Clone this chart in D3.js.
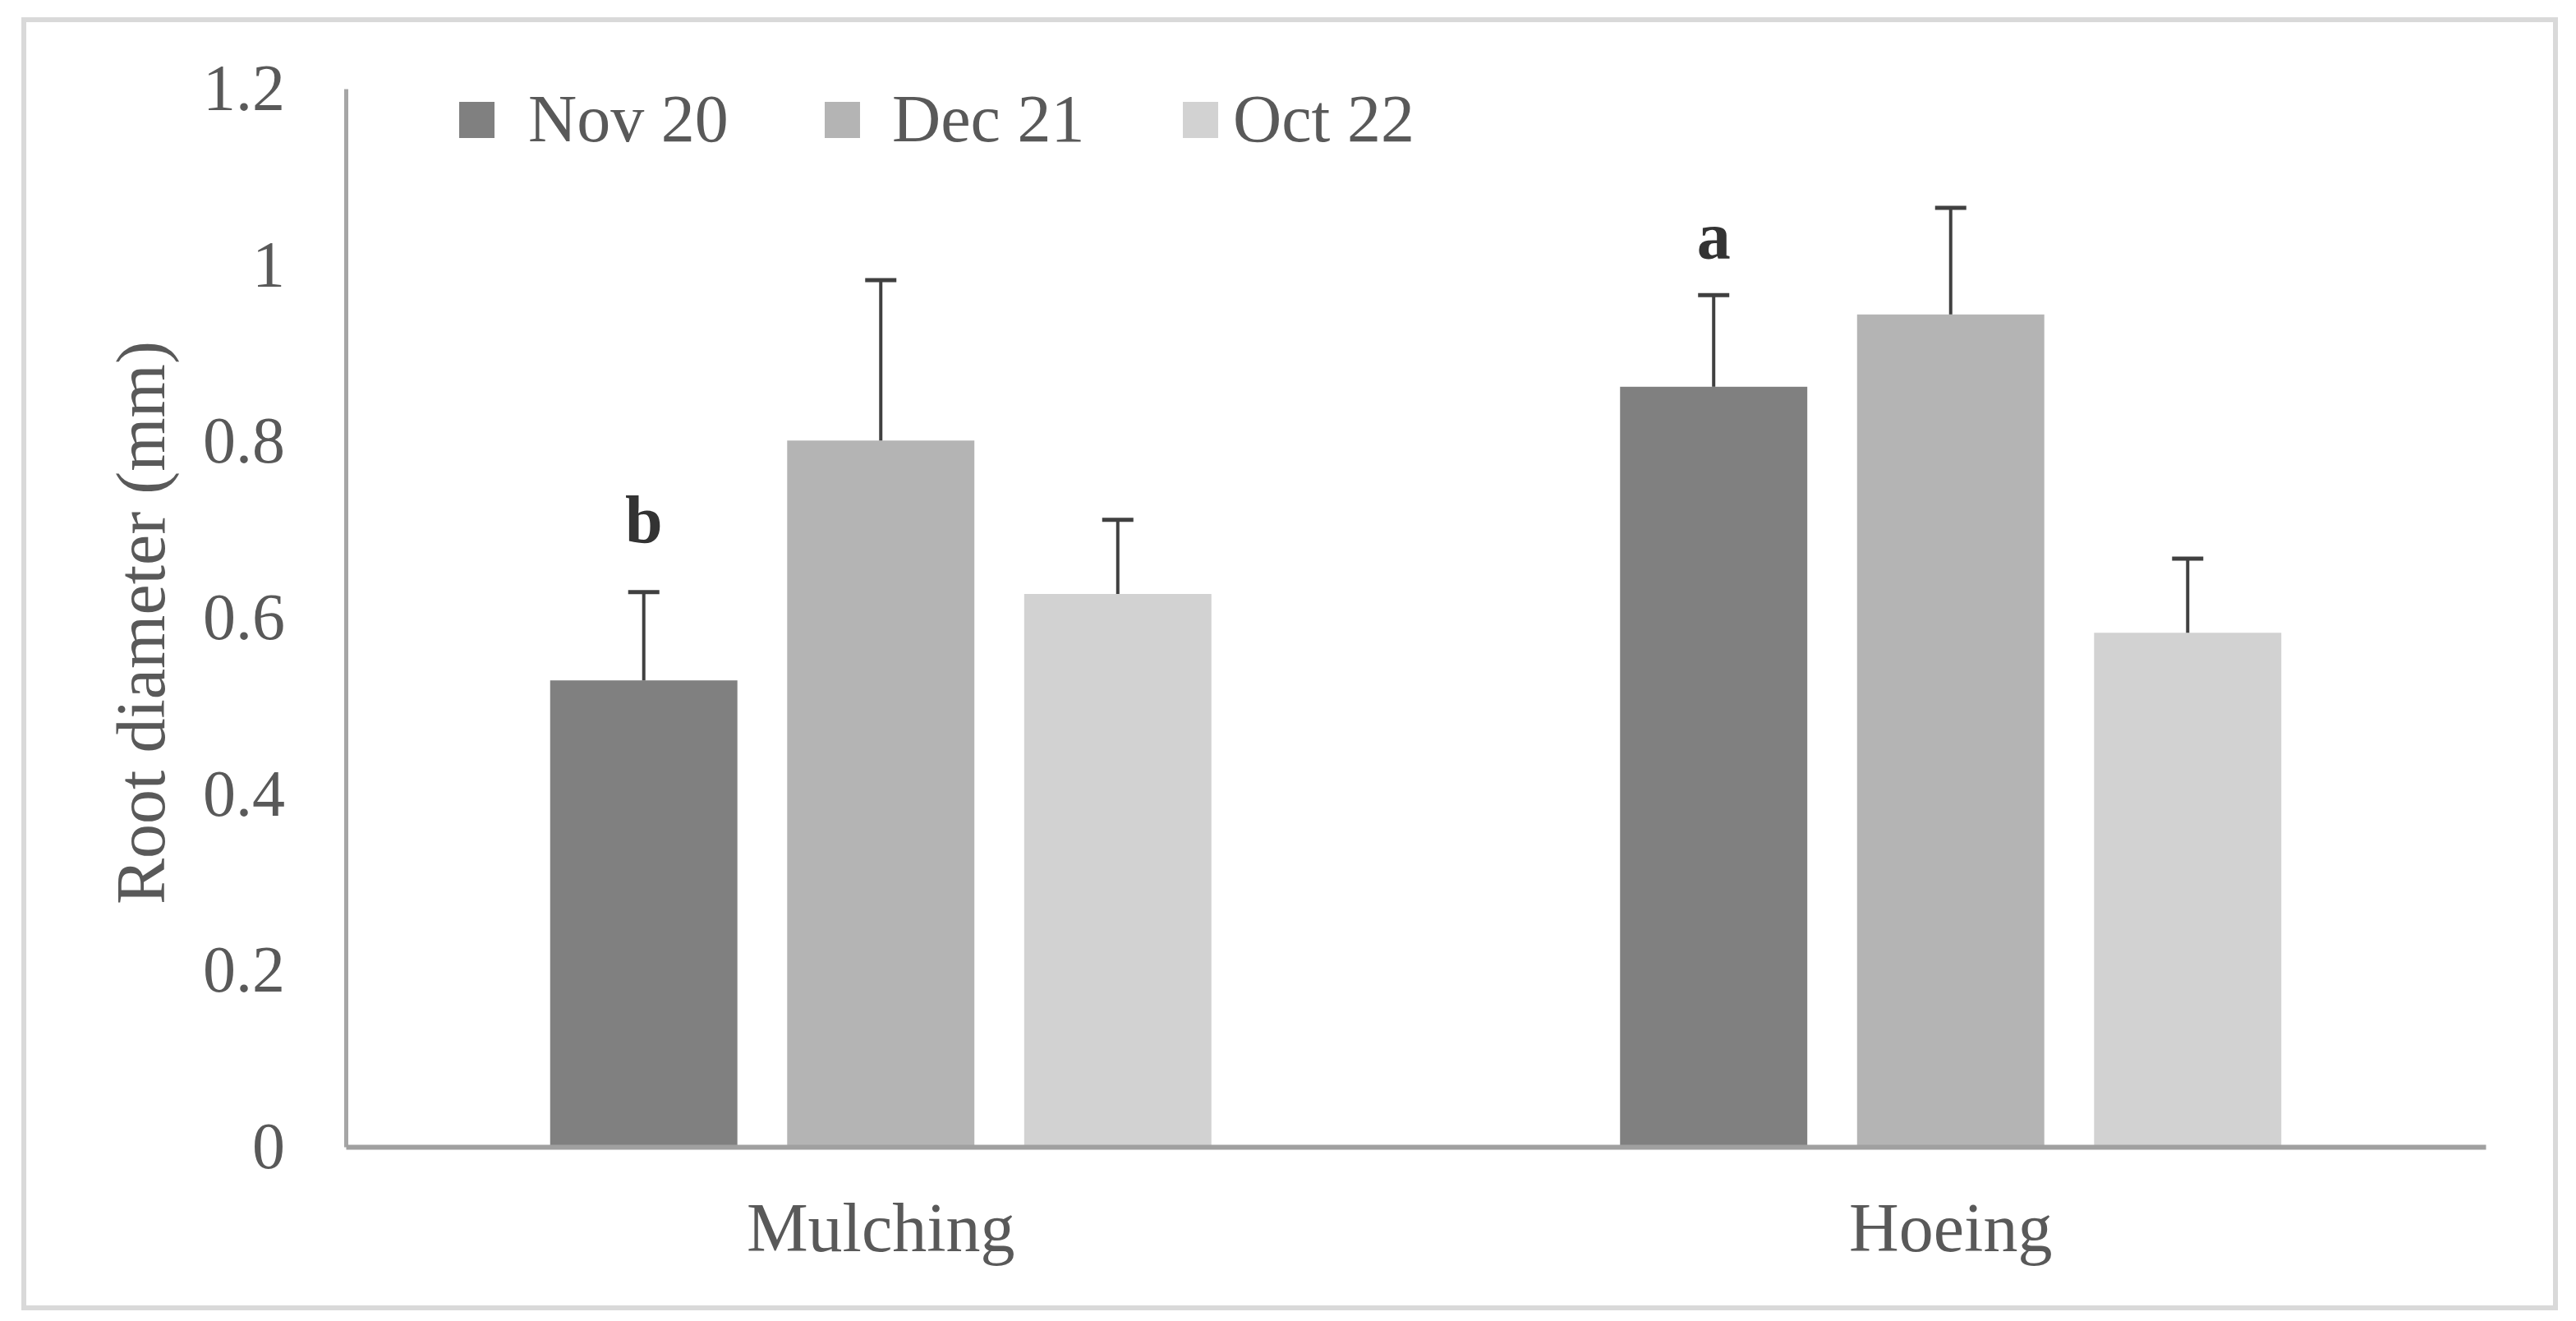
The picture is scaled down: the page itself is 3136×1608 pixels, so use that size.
<!DOCTYPE html>
<html>
<head>
<meta charset="utf-8">
<script src="https://cdn.jsdelivr.net/npm/d3@7"></script>
<style>
  html, body { margin: 0; padding: 0; background: #ffffff; }
  svg { display: block; }
</style>
</head>
<body>
<script>
// ---------------- DATA ----------------
const categories = ["Mulching", "Hoeing"];
const seriesNames = ["Nov 20", "Dec 21", "Oct 22"];
const nov20 = [0.529, 0.862];
const dec21 = [0.801, 0.944];
const oct22 = [0.627, 0.583];
const nov20Err = [0.100, 0.104];
const dec21Err = [0.182, 0.121];
const oct22Err = [0.084, 0.084];
const yTicks = [0, 0.2, 0.4, 0.6, 0.8, 1, 1.2];
const yTitle = "Root diameter (mm)";
// significance letters on the Nov 20 bars
const letters = ["b", "a"];
const letterAt = [0.686, 1.007];

// ---------------- LAYOUT / STYLE ----------------
const W = 3136, H = 1608;
const plot = { left: 421, right: 3026, top: 108, bottom: 1396 };
const colors = ["#808080", "#b4b4b4", "#d2d2d2"];
const font = "'Liberation Serif', 'Times New Roman', serif";
const textColor = "#595959";
const legendSquareX = [559, 1004, 1440];
const legendTextX = [643, 1086, 1501];

const seriesVals = [nov20, dec21, oct22];
const seriesErr = [nov20Err, dec21Err, oct22Err];
const rows = [];
categories.forEach((c, ci) => {
  seriesNames.forEach((s, si) => {
    rows.push({ cat: c, series: s, si, value: seriesVals[si][ci], err: seriesErr[si][ci] });
  });
});

const svg = d3.select("body").append("svg")
  .attr("width", W).attr("height", H)
  .attr("viewBox", `0 0 ${W} ${H}`);

svg.append("rect").attr("x", 0).attr("y", 0).attr("width", W).attr("height", H).attr("fill", "#fff");

// outer border
svg.append("rect")
  .attr("x", 29).attr("y", 24).attr("width", 3111 - 29).attr("height", 1592 - 24)
  .attr("fill", "none").attr("stroke", "#d9d9d9").attr("stroke-width", 6);

const x0 = d3.scaleBand().domain(categories).range([plot.left, plot.right]).padding(0);
const groupW = 805;
const x1 = d3.scaleBand().domain(seriesNames)
  .range([(x0.bandwidth() - groupW) / 2, (x0.bandwidth() + groupW) / 2])
  .paddingInner(0.21).paddingOuter(0);
const y = d3.scaleLinear().domain([0, 1.2]).range([plot.bottom, plot.top]);
const color = d3.scaleOrdinal().domain(seriesNames).range(colors);

// bars
const bars = svg.append("g");
bars.selectAll("rect").data(rows).join("rect")
  .attr("x", d => x0(d.cat) + x1(d.series))
  .attr("y", d => y(d.value))
  .attr("width", x1.bandwidth())
  .attr("height", d => y(0) - y(d.value))
  .attr("fill", d => color(d.series));

// error bars
const eb = svg.append("g").attr("stroke", "#404040");
eb.selectAll("line.stem").data(rows).join("line").attr("class", "stem")
  .attr("x1", d => x0(d.cat) + x1(d.series) + x1.bandwidth() / 2)
  .attr("x2", d => x0(d.cat) + x1(d.series) + x1.bandwidth() / 2)
  .attr("y1", d => y(d.value))
  .attr("y2", d => y(d.value + d.err))
  .attr("stroke-width", 4);
eb.selectAll("line.cap").data(rows).join("line").attr("class", "cap")
  .attr("x1", d => x0(d.cat) + x1(d.series) + x1.bandwidth() / 2 - 19)
  .attr("x2", d => x0(d.cat) + x1(d.series) + x1.bandwidth() / 2 + 19)
  .attr("y1", d => y(d.value + d.err))
  .attr("y2", d => y(d.value + d.err))
  .attr("stroke-width", 5);

// letters
svg.append("g").selectAll("text").data(categories).join("text")
  .attr("x", (c) => x0(c) + x1(seriesNames[0]) + x1.bandwidth() / 2)
  .attr("y", (c, i) => y(letterAt[i]))
  .attr("text-anchor", "middle")
  .attr("font-family", font).attr("font-size", 82).attr("font-weight", "bold")
  .attr("fill", "#333333")
  .text((c, i) => letters[i]);

// y axis
const yAxis = svg.append("g")
  .attr("transform", `translate(${plot.left},0)`)
  .call(d3.axisLeft(y).tickValues(yTicks).tickSize(0).tickSizeOuter(0).tickPadding(74)
    .tickFormat(d3.format("~g")));
yAxis.select(".domain").attr("stroke", "#a6a6a6").attr("stroke-width", 5);
yAxis.selectAll("text").attr("font-family", font).attr("font-size", 80).attr("fill", textColor);

// x axis
const xAxis = svg.append("g")
  .attr("transform", `translate(0,${plot.bottom})`)
  .call(d3.axisBottom(x0).tickSize(0).tickSizeOuter(0));
xAxis.select(".domain").attr("stroke", "#a0a0a0").attr("stroke-width", 6);
xAxis.selectAll("text")
  .attr("dy", null).attr("y", 127)
  .attr("font-family", font).attr("font-size", 84).attr("fill", textColor);

// y title
svg.append("text")
  .attr("transform", `translate(200,758) rotate(-90)`)
  .attr("text-anchor", "middle")
  .attr("font-family", font).attr("font-size", 84).attr("fill", textColor)
  .text(yTitle);

// legend
const lg = svg.append("g");
seriesNames.forEach((s, i) => {
  lg.append("rect")
    .attr("x", legendSquareX[i]).attr("y", 124).attr("width", 43).attr("height", 44)
    .attr("fill", color(s));
  lg.append("text")
    .attr("x", legendTextX[i]).attr("y", 172)
    .attr("font-family", font).attr("font-size", 82).attr("fill", textColor)
    .text(s);
});
</script>
</body>
</html>
